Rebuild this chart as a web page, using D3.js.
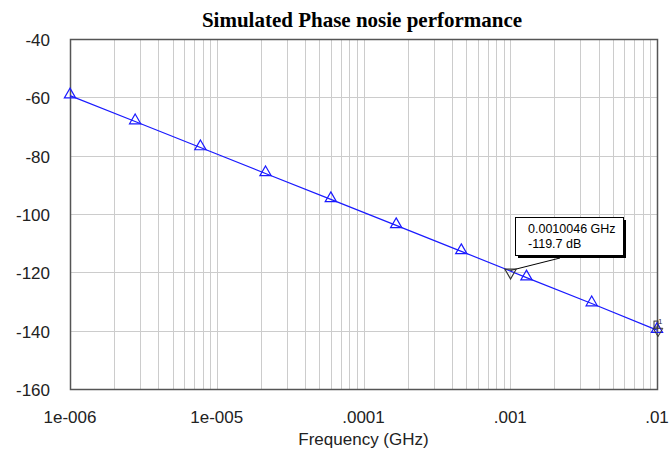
<!DOCTYPE html>
<html>
<head>
<meta charset="utf-8">
<script src="https://cdn.jsdelivr.net/npm/d3@7"></script>
<style>
  body { margin: 0; background: #fff; }
  text { font-family: Arial, "Liberation Sans", sans-serif; }
</style>
</head>
<body>
<script>
const width = 669;
const height = 452;

// data
const freqs = [1e-6, 2.78e-6, 7.74e-6, 2.15e-5, 5.99e-5, 1.67e-4, 4.64e-4, 1.29e-3, 3.59e-3, 1e-2];
const noise = [-59.4, -68.3, -77.2, -86.1, -95.0, -103.9, -112.8, -121.8, -130.7, -139.8];
const xTicks = [1e-6, 1e-5, 1e-4, 1e-3, 1e-2];
const xTickLabels = ["1e-006", "1e-005", ".0001", ".001", ".01"];
const yTicks = [-40, -60, -80, -100, -120, -140, -160];
const markerFreq = 0.0010046;
const markerDb = -119.7;

const plotL = 70, plotR = 657, plotT = 39, plotB = 389;
const lineColor = "#1a1aff";
const gridColor = "#cccccc";
const labelColor = "#222";

const x = d3.scaleLog().domain([1e-6, 1e-2]).range([plotL, plotR]);
const y = d3.scaleLinear().domain([-160, -40]).range([plotB, plotT]);

const svg = d3.select("body")
  .append("svg")
  .attr("width", width)
  .attr("height", height);

// minor + major vertical grid
const gridX = [];
for (let e = -6; e < -2; e++) {
  for (let m = 1; m <= 9; m++) gridX.push(m * Math.pow(10, e));
}
svg.selectAll(".vgrid")
  .data(gridX.filter(d => d > 1e-6))
  .enter()
  .append("line")
  .attr("x1", d => Math.round(x(d)) + 0.5)
  .attr("x2", d => Math.round(x(d)) + 0.5)
  .attr("y1", plotT)
  .attr("y2", plotB)
  .attr("stroke", gridColor)
  .attr("stroke-width", 1);

svg.selectAll(".hgrid")
  .data(yTicks.filter(d => d > -160 && d < -40))
  .enter()
  .append("line")
  .attr("x1", plotL)
  .attr("x2", plotR)
  .attr("y1", d => Math.round(y(d)) + 0.5)
  .attr("y2", d => Math.round(y(d)) + 0.5)
  .attr("stroke", gridColor)
  .attr("stroke-width", 1);

// frame
svg.append("rect")
  .attr("x", plotL + 0.5)
  .attr("y", plotT + 0.5)
  .attr("width", plotR - plotL)
  .attr("height", plotB - plotT)
  .attr("fill", "none")
  .attr("stroke", "#555")
  .attr("stroke-width", 1.5);

// y tick labels
svg.selectAll(".ylab")
  .data(yTicks)
  .enter()
  .append("text")
  .attr("x", 50)
  .attr("y", d => y(d) + 7)
  .attr("text-anchor", "end")
  .attr("font-size", 17)
  .attr("fill", labelColor)
  .text(d => d);

// x tick labels
svg.selectAll(".xlab")
  .data(xTicks)
  .enter()
  .append("text")
  .attr("x", d => x(d))
  .attr("y", 423)
  .attr("text-anchor", "middle")
  .attr("font-size", 17)
  .attr("fill", labelColor)
  .text((d, i) => xTickLabels[i]);

svg.append("text")
  .attr("x", (plotL + plotR) / 2)
  .attr("y", 445)
  .attr("text-anchor", "middle")
  .attr("font-size", 17)
  .attr("fill", labelColor)
  .text("Frequency (GHz)");

svg.append("text")
  .attr("x", 362)
  .attr("y", 27)
  .attr("text-anchor", "middle")
  .style("font-family", "'Liberation Serif', 'Times New Roman', serif")
  .style("font-weight", "bold")
  .attr("font-size", 21)
  .attr("fill", "#000")
  .text("Simulated Phase nosie performance");

// series
const pts = freqs.map((f, i) => ({f: f, v: noise[i]}));
const lineFunc = d3.line()
  .x(d => x(d.f))
  .y(d => y(d.v));

svg.append("path")
  .attr("d", lineFunc(pts))
  .attr("fill", "none")
  .attr("stroke", lineColor)
  .attr("stroke-width", 1.2);

const tri = d3.symbol().type(d3.symbolTriangle).size(55);
svg.selectAll(".tri")
  .data(pts)
  .enter()
  .append("path")
  .attr("d", tri)
  .attr("transform", d => "translate(" + x(d.f) + "," + (y(d.v) - 1) + ")")
  .attr("fill", "none")
  .attr("stroke", lineColor)
  .attr("stroke-width", 1.2);

// marker m1 with annotation
const mx = x(markerFreq), my = y(markerDb);
svg.append("line")
  .attr("x1", mx)
  .attr("y1", my - 1)
  .attr("x2", 560)
  .attr("y2", 258)
  .attr("stroke", "#000")
  .attr("stroke-width", 1);

svg.append("path")
  .attr("d", tri)
  .attr("transform", "translate(" + mx + "," + (my + 1) + ") rotate(180)")
  .attr("fill", "none")
  .attr("stroke", "#333")
  .attr("stroke-width", 1.2);

svg.append("rect")
  .attr("x", 518)
  .attr("y", 220)
  .attr("width", 108)
  .attr("height", 38)
  .attr("fill", "#000");
svg.append("rect")
  .attr("x", 515.5)
  .attr("y", 217.5)
  .attr("width", 108)
  .attr("height", 38)
  .attr("fill", "#fff")
  .attr("stroke", "#000")
  .attr("stroke-width", 1);

svg.append("text")
  .attr("x", 528)
  .attr("y", 233)
  .attr("font-size", 12.5)
  .attr("fill", "#000")
  .text(markerFreq.toFixed(7) + " GHz");
svg.append("text")
  .attr("x", 528)
  .attr("y", 248)
  .attr("font-size", 12.5)
  .attr("fill", "#000")
  .text(markerDb.toFixed(1) + " dB");

// end marker at last point
const last = pts[pts.length - 1];
svg.append("path")
  .attr("d", d3.symbol().type(d3.symbolTriangle).size(40))
  .attr("transform", "translate(" + (x(last.f) + 1) + "," + (y(last.v) + 1) + ") rotate(180)")
  .attr("fill", "none")
  .attr("stroke", "#333")
  .attr("stroke-width", 1);
svg.append("rect")
  .attr("x", x(last.f) - 3)
  .attr("y", y(last.v) - 9)
  .attr("width", 4)
  .attr("height", 6)
  .attr("fill", "none")
  .attr("stroke", "#333")
  .attr("stroke-width", 1);
svg.append("text")
  .attr("x", x(last.f) + 1)
  .attr("y", y(last.v) - 6)
  .attr("font-size", 8)
  .attr("fill", "#333")
  .text("1");
</script>
</body>
</html>
